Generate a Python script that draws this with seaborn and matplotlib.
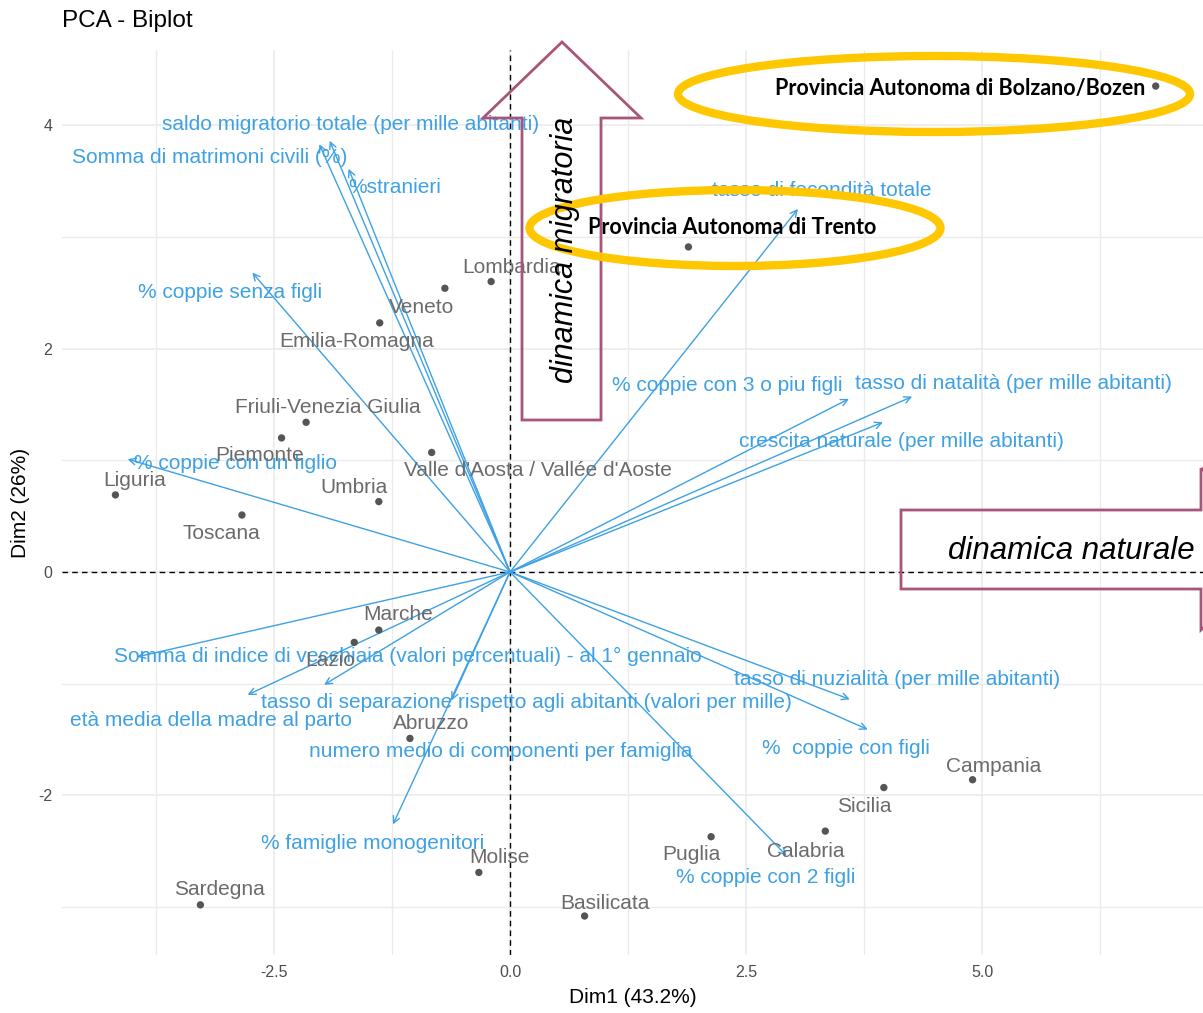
import numpy as np
import pandas as pd
import matplotlib
matplotlib.use("Agg")
import matplotlib.pyplot as plt
from matplotlib.patches import Polygon, Ellipse
from matplotlib.ticker import FixedLocator
import seaborn as sns

# Individual coordinates on the first two principal components
regioni = ["Piemonte", "Valle d'Aosta / Vallée d'Aoste", "Liguria", "Lombardia",
           "Provincia Autonoma di Bolzano/Bozen", "Provincia Autonoma di Trento",
           "Veneto", "Friuli-Venezia Giulia", "Emilia-Romagna", "Toscana", "Umbria",
           "Marche", "Lazio", "Abruzzo", "Molise", "Campania", "Puglia", "Basilicata",
           "Calabria", "Sicilia", "Sardegna"]
dim1_ind = [-2.42, -0.83, -4.18, -0.20, 6.84, 1.89, -0.69, -2.16, -1.38, -2.84, -1.39,
            -1.39, -1.65, -1.06, -0.33, 4.90, 2.13, 0.79, 3.34, 3.96, -3.28]
dim2_ind = [1.20, 1.07, 0.69, 2.60, 4.35, 2.91, 2.54, 1.34, 2.23, 0.51, 0.63,
            -0.52, -0.63, -1.49, -2.69, -1.86, -2.37, -3.08, -2.32, -1.93, -2.98]

# Variable loadings (scaled arrows)
variabili = ["saldo migratorio totale (per mille abitanti)",
             "Somma di matrimoni civili (%)",
             "%stranieri",
             "% coppie senza figli",
             "% coppie con un figlio",
             "Somma di indice di vecchiaia (valori percentuali) - al 1° gennaio",
             "età media della madre al parto",
             "tasso di separazione rispetto agli abitanti (valori per mille)",
             "numero medio di componenti per famiglia",
             "% famiglie monogenitori",
             "% coppie con 3 o piu figli",
             "tasso di natalità (per mille abitanti)",
             "crescita naturale (per mille abitanti)",
             "tasso di fecondità totale",
             "tasso di nuzialità (per mille abitanti)",
             "%  coppie con figli",
             "% coppie con 2 figli"]
dim1_var = [-1.91, -2.02, -1.71, -2.73, -4.05, -3.95, -2.78, -1.97, -0.62, -1.24,
            3.59, 4.26, 3.95, 3.05, 3.60, 3.79, 2.93]
dim2_var = [3.86, 3.83, 3.61, 2.68, 1.01, -0.76, -1.10, -1.01, -1.15, -2.26,
            1.55, 1.57, 1.34, 3.25, -1.14, -1.41, -2.54]

x_ticks = [-2.5, 0.0, 2.5, 5.0]
y_ticks = [-2, 0, 2, 4]

# Label placement (pixel offsets from each mark, repel-style)
ind_offsets = {
    "Piemonte": (-22, -18), "Valle d'Aosta / Vallée d'Aoste": (106, -18),
    "Liguria": (19, 14), "Lombardia": (20, 14), "Veneto": (-23, -19),
    "Friuli-Venezia Giulia": (22, 15), "Emilia-Romagna": (-23, -19),
    "Toscana": (-21, -18), "Umbria": (-25, 14), "Marche": (19, 16),
    "Lazio": (-24, -18), "Abruzzo": (21, 15), "Molise": (21, 15),
    "Campania": (21, 13), "Puglia": (-20, -18), "Basilicata": (20, 13),
    "Calabria": (-20, -20), "Sicilia": (-20, -19), "Sardegna": (19, 15),
}
var_offsets = [(21, 16), (-110, -13), (46, -19), (-22, -20), (108, -4), (271, 0),
               (-37, -26), (202, -18), (49, -51), (-20, -19), (-122, 13), (101, 13),
               (19, -19), (24, 18), (47, 20), (-22, -19), (-21, -22)]

ind = pd.DataFrame({"regione": regioni, "Dim1": dim1_ind, "Dim2": dim2_ind})

sns.set_theme(style="whitegrid")
plt.rcParams["font.family"] = ["Liberation Sans", "DejaVu Sans"]

W, H = 1203, 1013
fig = plt.figure(figsize=(W / 100, H / 100), dpi=100)
ax = fig.add_axes([62 / W, (H - 955) / H, (W - 62) / W, (955 - 50) / H])
ax.set_facecolor("white")

ax.set_xlim(-4.746, 7.341)
ax.set_ylim(-3.429, 4.673)
ax.xaxis.set_major_locator(FixedLocator(x_ticks))
ax.yaxis.set_major_locator(FixedLocator(y_ticks))
ax.xaxis.set_minor_locator(FixedLocator([-3.75, -1.25, 1.25, 3.75, 6.25]))
ax.yaxis.set_minor_locator(FixedLocator([-3, -1, 1, 3]))
ax.set_xticklabels([f"{t:.1f}" for t in x_ticks])
ax.set_yticklabels([str(t) for t in y_ticks])
ax.grid(True, which="major", color="#EBEBEB", lw=1.2)
ax.grid(True, which="minor", color="#EBEBEB", lw=1.0)
for s in ax.spines.values():
    s.set_visible(False)
ax.tick_params(axis="both", which="major", length=4, width=1, color="#333333",
               labelcolor="#4D4D4D", labelsize=11.5, pad=3)
ax.tick_params(axis="both", which="minor", length=0)
ax.set_axisbelow(True)

ax.axhline(0, color="black", ls=(0, (4, 3)), lw=1.0, zorder=1)
ax.axvline(0, color="black", ls=(0, (4, 3)), lw=1.0, zorder=1)

blue = "#3DA1E3"
grey_pt = "#555555"
grey_lab = "#6B6B6B"

# Variable arrows and labels
for name, vx, vy, off in zip(variabili, dim1_var, dim2_var, var_offsets):
    ax.annotate("", xy=(vx, vy), xytext=(0, 0),
                arrowprops=dict(arrowstyle="->", color=blue, lw=1.0,
                                mutation_scale=12, shrinkA=0, shrinkB=0),
                zorder=2)
    ax.annotate(name, xy=(vx, vy), xytext=off, textcoords="offset pixels",
                ha="center", va="center", color=blue, fontsize=15, zorder=3)

# Individuals
sns.scatterplot(data=ind, x="Dim1", y="Dim2", ax=ax, color=grey_pt, s=28,
                edgecolor="none", zorder=4, legend=False)
for r, x, y in zip(regioni, dim1_ind, dim2_ind):
    if r in ind_offsets:
        ax.annotate(r, xy=(x, y), xytext=ind_offsets[r], textcoords="offset pixels",
                    ha="center", va="center", color=grey_lab, fontsize=15, zorder=4)

ax.set_xlabel("Dim1 (43.2%)", fontsize=15, color="black", labelpad=6)
ax.set_ylabel("Dim2 (26%)", fontsize=15, color="black", labelpad=6)
fig.text(62 / W, 1 - 21 / H, "PCA - Biplot", fontsize=17.5, color="black",
         ha="left", va="center")

# Overlay shapes in pixel space
def px(x, y):
    return (x / W, 1 - y / H)

mauve = "#A8557C"
gold = "#FFC700"

up_arrow = [px(522, 420), px(522, 118), px(483, 118), px(562, 42), px(641, 118),
            px(601, 118), px(601, 420)]
fig.add_artist(Polygon(up_arrow, closed=True, fill=False, edgecolor=mauve, lw=2.0,
                       transform=fig.transFigure, zorder=6))
right_arrow = [px(1201, 468), px(1201, 510), px(901, 510), px(901, 589), px(1201, 589),
               px(1201, 630), px(1290, 549)]
fig.add_artist(Polygon(right_arrow, closed=True, fill=False, edgecolor=mauve, lw=2.0,
                       transform=fig.transFigure, zorder=6))

fig.text(565 / W, 1 - 250 / H, "dinamica migratoria", rotation=90, fontsize=22,
         style="italic", color="black", ha="center", va="center", zorder=7)
fig.text(1071 / W, 1 - 551 / H, "dinamica naturale", fontsize=22.5,
         style="italic", color="black", ha="center", va="center", zorder=7)

for cx, cy, w, h in [(934, 94, 512, 76), (735, 228, 411, 76)]:
    fig.add_artist(Ellipse(px(cx, cy), w / W, h / H, fill=False, edgecolor=gold,
                           lw=6.0, transform=fig.transFigure, zorder=6))

# Highlighted provinces
bz = regioni.index("Provincia Autonoma di Bolzano/Bozen")
tn = regioni.index("Provincia Autonoma di Trento")
ax.annotate(regioni[bz], xy=(dim1_ind[bz], dim2_ind[bz]), xytext=(-10, -2),
            textcoords="offset pixels", ha="right", va="center", fontsize=15.5,
            fontweight="bold", color="black", family=["Lato", "DejaVu Sans"], zorder=8)
ax.annotate(regioni[tn], xy=(dim1_ind[tn], dim2_ind[tn]), xytext=(44, 19),
            textcoords="offset pixels", ha="center", va="center", fontsize=15.5,
            fontweight="bold", color="black", family=["Lato", "DejaVu Sans"], zorder=8)

fig.savefig("out.png", dpi=100, facecolor="white")
